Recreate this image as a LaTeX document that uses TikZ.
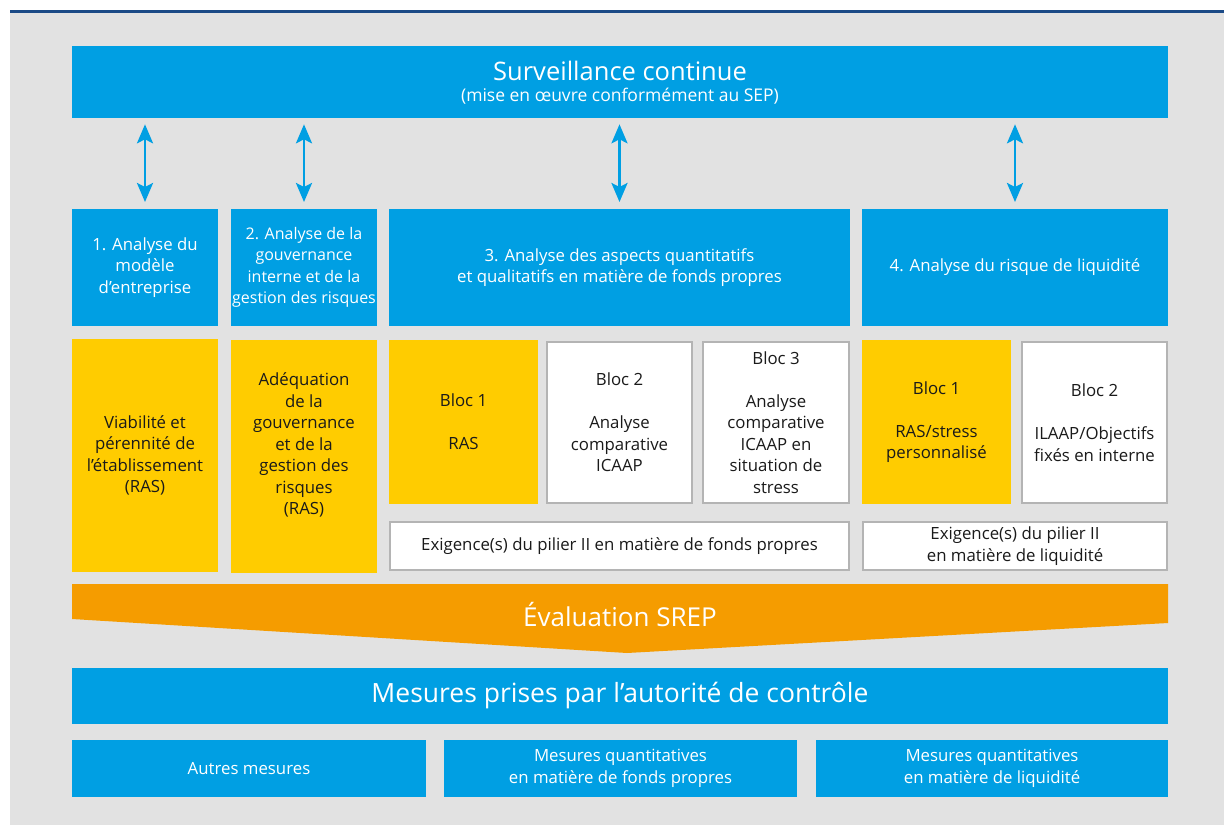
\documentclass[tikz,border=0pt]{standalone}
\usepackage{fontspec}
\setmainfont{Open Sans}
\usetikzlibrary{arrows.meta}
\definecolor{bleu}{HTML}{009FE3}
\definecolor{jaune}{HTML}{FFCC00}
\definecolor{orangeS}{HTML}{F59C00}
\definecolor{fond}{HTML}{E2E2E2}
\definecolor{cadre}{HTML}{B4B4B4}
\definecolor{txt}{HTML}{1A1A1A}
\definecolor{navy}{HTML}{1B4A86}
\begin{document}
\begin{tikzpicture}[x=1pt,y=-1pt,
  box/.style={inner sep=0pt, outer sep=0pt, align=center, font=\fontsize{16.8}{21.5}\selectfont},
  bluebox/.style={box, fill=bleu, text=white},
  yelbox/.style={box, fill=jaune, text=txt},
  whitebox/.style={box, fill=white, draw=cadre, line width=2pt, text=txt},
  txtnode/.style={box, text=txt},
  arr/.style={draw=bleu, line width=2.8pt, {Stealth[length=19pt,width=16pt,inset=4pt]}-{Stealth[length=19pt,width=16pt,inset=4pt]}, shorten <=6.3pt, shorten >=7pt}]
\useasboundingbox (0,0) rectangle (1224,825);
\fill[fond] (10,12) rectangle (1224,825);
\fill[navy] (10,10) rectangle (1224,13);

% top
\node[bluebox, minimum width=1096pt, minimum height=72pt] (top) at (620,82) {};
\node[box, text=white, font=\fontsize{25.5}{28}\selectfont, anchor=base] (toptitle) at (620,80.5) {Surveillance continue};
\node[box, text=white, font=\fontsize{17.5}{20}\selectfont, anchor=base] (topsub) at (620,101.5) {(mise en œuvre conformément au SEP)};

% headers
\node[bluebox, minimum width=146pt, minimum height=117pt] (h1) at (145,267.5) {1. Analyse du\\modèle\\d’entreprise};
\node[bluebox, minimum width=146pt, minimum height=117pt, font=\fontsize{16}{21.5}\selectfont] (h2) at (304,267.5) {2. Analyse de la\\gouvernance\\interne et de la\\gestion des risques};
\node[bluebox, minimum width=461pt, minimum height=117pt] (h3) at (619.5,267.5) {3. Analyse des aspects quantitatifs\\et qualitatifs en matière de fonds propres};
\node[bluebox, minimum width=306pt, minimum height=117pt] (h4) at (1015,267.5) {4. Analyse du risque de liquidité};

% arrows
\draw[arr] (top.south -| h1.north) -- (h1.north);
\draw[arr] (top.south -| h2.north) -- (h2.north);
\draw[arr] (top.south -| h3.north) -- (h3.north);
\draw[arr] (top.south -| h4.north) -- (h4.north);

% yellow columns
\node[yelbox, minimum width=146pt, minimum height=233pt] (y1) at (145,455.5) {Viabilité et\\pérennité de\\l’établissement\\(RAS)};
\node[yelbox, minimum width=146pt, minimum height=233pt] (y2) at (304,456) {};
\node[txtnode] (y2t) at (304,445) {Adéquation\\de la\\gouvernance\\et de la\\gestion des\\risques\\(RAS)};

% block 3
\node[yelbox, minimum width=149pt, minimum height=164pt] (b31) at (463.5,422) {Bloc 1\\[21.5pt]RAS};
\node[whitebox, minimum width=145pt, minimum height=161pt] (b32) at (619.5,422.5) {Bloc 2\\[21.5pt]Analyse\\comparative\\ICAAP};
\node[whitebox, minimum width=146pt, minimum height=161pt] (b33) at (776,422.5) {Bloc 3\\[21.5pt]Analyse\\comparative\\ICAAP en\\situation de\\stress};
\node[whitebox, minimum width=459pt, minimum height=48pt] (e3) at (619.5,546) {Exigence(s) du pilier II en matière de fonds propres};

% block 4
\node[yelbox, minimum width=149pt, minimum height=164pt] (b41) at (936.5,422) {Bloc 1\\[21.5pt]RAS/stress\\personnalisé};
\node[whitebox, minimum width=145pt, minimum height=161pt] (b42) at (1094.5,422.5) {Bloc 2\\[21.5pt]ILAAP/Objectifs\\fixés en interne};
\node[whitebox, minimum width=304pt, minimum height=48pt] (e4) at (1015,546) {Exigence(s) du pilier II\\en matière de liquidité};

% SREP
\fill[orangeS] (72,584) -- (1168,584) -- (1168,623) -- (627,653) -- (72,619) -- cycle;
\node[box, text=white, font=\fontsize{26}{30}\selectfont] (srep) at (620,615) {Évaluation SREP};

% mesures
\node[bluebox, minimum width=1096pt, minimum height=56pt, font=\fontsize{26.5}{30}\selectfont] (mes) at (620,696) {Mesures prises par l’autorité de contrôle};
\node[bluebox, minimum width=354pt, minimum height=57pt] (m1) at (249,768.5) {Autres mesures};
\node[bluebox, minimum width=353pt, minimum height=57pt] (m2) at (620.5,768.5) {Mesures quantitatives\\en matière de fonds propres};
\node[bluebox, minimum width=352pt, minimum height=57pt] (m3) at (992,768.5) {Mesures quantitatives\\en matière de liquidité};
\end{tikzpicture}
\end{document}
